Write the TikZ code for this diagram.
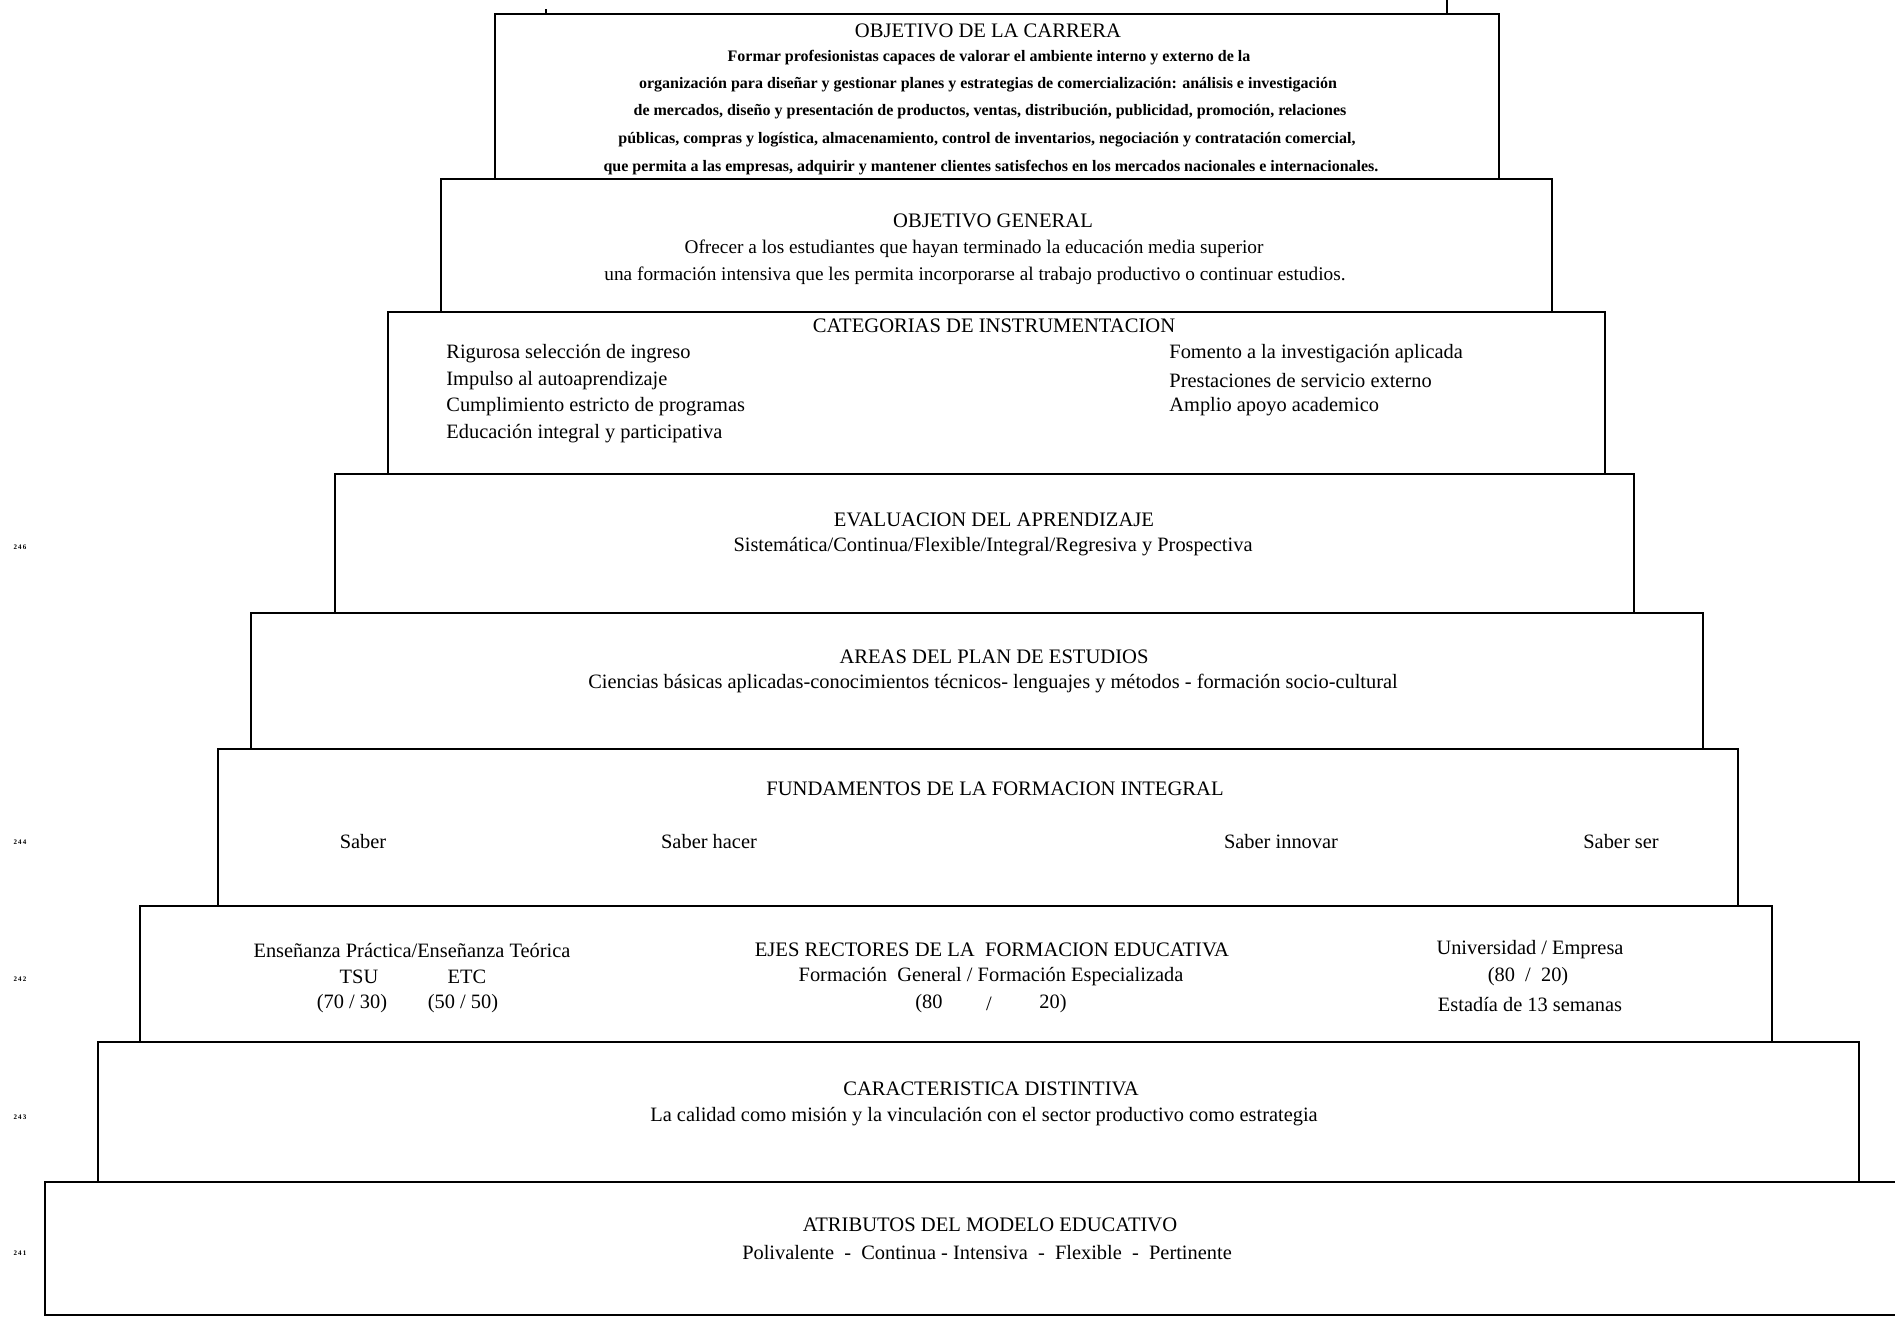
\documentclass[tikz,border=0pt]{standalone}
\usepackage{fontspec}
\setmainfont{Liberation Serif}
\begin{document}
\begin{tikzpicture}[x=0.5pt,y=-0.5pt,
  boxline/.style={line width=1.1pt,black},
  ttl/.style={font=\fontsize{10.3}{12}\selectfont,inner sep=0pt,anchor=center},
  txt/.style={font=\fontsize{10.2}{12}\selectfont,inner sep=0pt,anchor=center},
  txts/.style={font=\fontsize{9.65}{12}\selectfont,inner sep=0pt,anchor=center},
  txtw/.style={font=\fontsize{10.2}{12}\selectfont,inner sep=0pt,anchor=west},
  tiny/.style={font=\fontsize{8}{9}\selectfont\bfseries,inner sep=0pt,anchor=center},
  pnum/.style={font=\fontsize{3.5}{4}\selectfont\bfseries,inner sep=0pt,anchor=center}]
\useasboundingbox (0,0) rectangle (1895,1317);
% boxes
\draw[boxline] (495,14) rectangle (1499,179);
\draw[boxline] (1447,14) -- (1447,0);
\draw[boxline] (546,14) -- (546,9);
\draw[boxline] (441,179) rectangle (1552,312);
\draw[boxline] (388,312) rectangle (1605,474);
\draw[boxline] (335,474) rectangle (1634,613);
\draw[boxline] (251,613) rectangle (1703,749);
\draw[boxline] (218,749) rectangle (1738,906);
\draw[boxline] (140,906) rectangle (1772,1042);
\draw[boxline] (98,1042) rectangle (1859,1182);
\draw[boxline] (1895,1182) -- (45,1182) -- (45,1315) -- (1895,1315);
% box 1
\node[ttl] (t1) at (988,31) {OBJETIVO DE LA CARRERA};
\node[tiny] (t1a) at (989,58) {Formar profesionistas capaces de valorar el ambiente interno y externo de la};
\node[tiny] (t1b) at (988,85) {organización para diseñar y gestionar planes y estrategias de comercialización: análisis e investigación};
\node[tiny] (t1c) at (990,112) {de mercados, diseño y presentación de productos, ventas, distribución, publicidad, promoción, relaciones};
\node[tiny] (t1d) at (987,140) {públicas, compras y logística, almacenamiento, control de inventarios, negociación y contratación comercial,};
\node[tiny] (t1e) at (991,168) {que permita a las empresas, adquirir y mantener clientes satisfechos en los mercados nacionales e internacionales.};
% box 2
\node[ttl] (t2) at (993,221) {OBJETIVO GENERAL};
\node[txts] (t2a) at (974,249) {Ofrecer a los estudiantes que hayan terminado la educación media superior};
\node[txts] (t2b) at (975,276) {una formación intensiva que les permita incorporarse al trabajo productivo o continuar estudios.};
% box 3
\node[ttl] (t3) at (994,326) {CATEGORIAS DE INSTRUMENTACION};
\node[txtw] (l1) at (446,354) {Rigurosa selección de ingreso};
\node[txtw] (l2) at (446,381) {Impulso al autoaprendizaje};
\node[txtw] (l3) at (446,407) {Cumplimiento estricto de programas};
\node[txtw] (l4) at (446,434) {Educación integral y participativa};
\node[txtw] (r1) at (1169,354) {Fomento a la investigación aplicada};
\node[txtw] (r2) at (1169,381) {Prestaciones de servicio externo};
\node[txtw] (r3) at (1169,407) {Amplio apoyo academico};
% box 4
\node[ttl] (t4) at (994,520) {EVALUACION DEL APRENDIZAJE};
\node[txt] (t4a) at (993,547) {Sistemática/Continua/Flexible/Integral/Regresiva y Prospectiva};
% box 5
\node[ttl] (t5) at (994,657) {AREAS DEL PLAN DE ESTUDIOS};
\node[txt] (t5a) at (993,684) {Ciencias básicas aplicadas-conocimientos técnicos- lenguajes y métodos - formación socio-cultural};
% box 6
\node[ttl] (t6) at (995,789) {FUNDAMENTOS DE LA FORMACION INTEGRAL};
\node[txt] (s1) at (363,842) {Saber};
\node[txt] (s2) at (709,842) {Saber hacer};
\node[txt] (s3) at (1281,842) {Saber innovar};
\node[txt] (s4) at (1621,842) {Saber ser};
% box 7
\node[txt] (e1) at (412,950) {Enseñanza Práctica/Enseñanza Teórica};
\node[txt] (e2) at (359,977) {TSU};
\node[txt] (e3) at (467,977) {ETC};
\node[txt] (e4) at (352,1004) {(70 / 30)};
\node[txt] (e5) at (463,1004) {(50 / 50)};
\node[ttl] (t7) at (992,950) {EJES RECTORES DE LA \ FORMACION EDUCATIVA};
\node[txt] (m1) at (991,977) {Formación \ General / Formación Especializada};
\node[txt] (m2) at (929,1004) {(80};
\node[txt] (m3) at (989,1004) {/};
\node[txt] (m4) at (1053,1004) {20)};
\node[txt] (u1) at (1530,950) {Universidad / Empresa};
\node[txt] (u2) at (1528,977) {(80 \ / \ 20)};
\node[txt] (u3) at (1530,1004) {Estadía de 13 semanas};
% box 8
\node[ttl] (t8) at (991,1089) {CARACTERISTICA DISTINTIVA};
\node[txt] (t8a) at (984,1117) {La calidad como misión y la vinculación con el sector productivo como estrategia};
% box 9
\node[ttl] (t9) at (990,1225) {ATRIBUTOS DEL MODELO EDUCATIVO};
\node[txt] (t9a) at (987,1253) {Polivalente \ - \ Continua - Intensiva \ - \ Flexible \ - \ Pertinente};
% page numbers
\node[pnum] (p1) at (20,547) {2\,4\,6};
\node[pnum] (p2) at (20,842) {2\,4\,4};
\node[pnum] (p3) at (20,979) {2\,4\,2};
\node[pnum] (p4) at (20,1117) {2\,4\,3};
\node[pnum] (p5) at (20,1253) {2\,4\,1};
\end{tikzpicture}
\end{document}
